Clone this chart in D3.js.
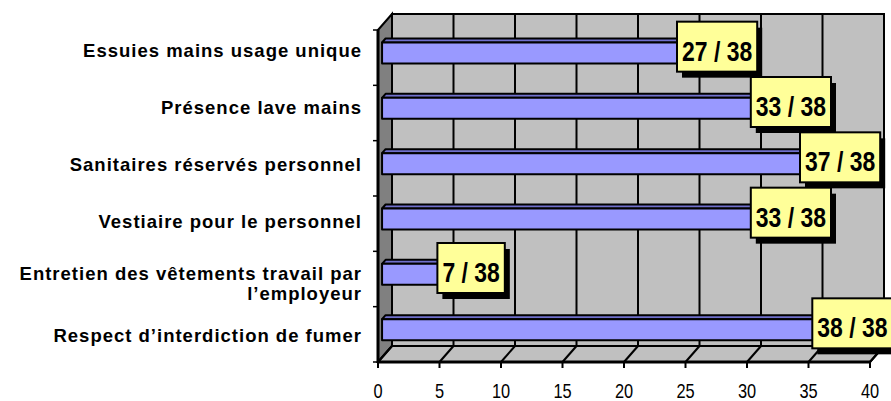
<!DOCTYPE html>
<html>
<head>
<meta charset="utf-8">
<script src="https://cdn.jsdelivr.net/npm/d3@7"></script>
<style>
  body { margin: 0; background: #fff; }
  svg { display: block; }
</style>
</head>
<body>
<div id="chart"></div>
<script>
// data
const categories = [
    "Essuies mains usage unique",
    "Présence lave mains",
    "Sanitaires réservés personnel",
    "Vestiaire pour le personnel",
    "Entretien des vêtements travail par l’employeur",
    "Respect d’interdiction de fumer"
];
const labelLines = [
    ["Essuies mains usage unique"],
    ["Présence lave mains"],
    ["Sanitaires réservés personnel"],
    ["Vestiaire pour le personnel"],
    ["Entretien des vêtements travail par", "l’employeur"],
    ["Respect d’interdiction de fumer"]
];
const values = [27, 33, 37, 33, 7, 38];
const total = 38;
const xTicks = [0, 5, 10, 15, 20, 25, 30, 35, 40];

const W = 891, H = 401;
const DX = 14, DY = -16;          // depth of the 3d box
const barF = 0.29, barB = 0.54;   // bar front / back as fraction of depth
const narrow = 0.82;              // horizontal squeeze for the narrow font

const svg = d3.select("#chart").append("svg")
    .attr("width", W)
    .attr("height", H)
    .style("font-family", "'Liberation Sans', Arial, sans-serif");

const x = d3.scaleLinear().domain([0, 40]).range([378, 870]);
const y = d3.scaleBand().domain(categories).range([30, 362]).paddingInner(0);
const yLabel = d3.scalePoint().domain(categories).range([50, 335]);

const x0 = x(0), x1 = x(40), yTop = y.range()[0], yBot = y.range()[1];

// WALLS
svg.append("rect")
    .attr("x", x0 + DX).attr("y", yTop + DY)
    .attr("width", x1 - x0).attr("height", yBot - yTop)
    .attr("fill", "#c0c0c0").attr("stroke", "#000").attr("stroke-width", 2);

svg.append("polygon")
    .attr("points", [[x0, yTop], [x0 + DX, yTop + DY], [x0 + DX, yBot + DY], [x0, yBot]].join(" "))
    .attr("fill", "#808080").attr("stroke", "#000").attr("stroke-width", 2);

svg.append("polygon")
    .attr("points", [[x0, yBot], [x0 + DX, yBot + DY], [x1 + DX, yBot + DY], [x1, yBot]].join(" "))
    .attr("fill", "#c0c0c0").attr("stroke", "#000").attr("stroke-width", 2);

// grid on back wall and floor
svg.selectAll(".wallgrid").data(xTicks.slice(1, -1)).enter()
    .append("line")
    .attr("x1", d => x(d) + DX).attr("x2", d => x(d) + DX)
    .attr("y1", yTop + DY).attr("y2", yBot + DY)
    .attr("stroke", "#000").attr("stroke-width", 2);

svg.selectAll(".floorgrid").data(xTicks).enter()
    .append("line")
    .attr("x1", d => x(d)).attr("y1", yBot)
    .attr("x2", d => x(d) + DX).attr("y2", yBot + DY)
    .attr("stroke", "#000").attr("stroke-width", 2);

// AXES
svg.append("line")
    .attr("x1", x0).attr("x2", x1).attr("y1", yBot).attr("y2", yBot)
    .attr("stroke", "#000").attr("stroke-width", 3);
svg.append("line")
    .attr("x1", x0).attr("x2", x0).attr("y1", yTop).attr("y2", yBot)
    .attr("stroke", "#000").attr("stroke-width", 3);

svg.selectAll(".xtick").data(xTicks).enter()
    .append("line")
    .attr("x1", d => x(d)).attr("x2", d => x(d))
    .attr("y1", yBot).attr("y2", yBot + 6)
    .attr("stroke", "#000").attr("stroke-width", 2);

const yBounds = categories.map(c => y(c)).concat([yBot]);
svg.selectAll(".ytick").data(yBounds).enter()
    .append("line")
    .attr("x1", x0 - 5).attr("x2", x0)
    .attr("y1", d => d).attr("y2", d => d)
    .attr("stroke", "#000").attr("stroke-width", 1.5);

svg.selectAll(".xlab").data(xTicks).enter()
    .append("g")
    .attr("transform", d => "translate(" + x(d) + ",398) scale(" + narrow + ",1)")
    .append("text")
    .attr("text-anchor", "middle")
    .style("font-size", "20px")
    .text(d => d);

// category labels
categories.forEach((c, i) => {
    const lines = labelLines[i];
    const cy = yLabel(c) + (lines.length > 1 ? 5 : 0);
    lines.forEach((t, j) => {
        svg.append("text")
            .attr("x", 362)
            .attr("y", cy + (j - (lines.length - 1) / 2) * 19.5 + 7)
            .attr("text-anchor", "end")
            .style("font-size", "18.5px")
            .style("font-weight", "bold")
            .style("letter-spacing", "1px")
            .text(t);
    });
});

// BARS
const bh = y.bandwidth() * 0.38;
const ddx = DX * (barB - barF), ddy = DY * (barB - barF);

categories.forEach((c, i) => {
    const v = values[i];
    const yc = y(c) + y.bandwidth() / 2;
    const bx = x0 + DX * barF, by = yc - bh / 2 + DY * barF;
    const bw = x(v) - x0;
    const g = svg.append("g").attr("stroke", "#000").attr("stroke-width", 2).attr("stroke-linejoin", "round");

    g.append("polygon")
        .attr("points", [[bx, by], [bx + bw, by], [bx + bw + ddx, by + ddy], [bx + ddx, by + ddy]].join(" "))
        .attr("fill", "#7070cc");
    g.append("polygon")
        .attr("points", [[bx + bw, by], [bx + bw + ddx, by + ddy], [bx + bw + ddx, by + bh + ddy], [bx + bw, by + bh]].join(" "))
        .attr("fill", "#5050a0");
    g.append("rect")
        .attr("x", bx).attr("y", by).attr("width", bw).attr("height", bh)
        .attr("fill", "#9999ff");
});

// DATA LABELS
categories.forEach((c, i) => {
    const v = values[i];
    const cx = x(v) + DX * 0.5;
    const cy = y(c) + y.bandwidth() / 2 - 11;
    const g = svg.append("g");
    const shadow = g.append("rect");
    const box = g.append("rect");
    const t = g.append("g")
        .attr("transform", "translate(" + cx + "," + (cy + 14) + ") scale(" + narrow + ",1)")
        .append("text")
        .attr("text-anchor", "middle")
        .style("font-size", "28px")
        .style("font-weight", "bold")
        .text(v + " / " + total);
    const tw = t.node().getComputedTextLength() * narrow;
    const bw = tw + 10, bhh = 50;
    shadow.attr("x", cx - bw / 2 + 5).attr("y", cy - bhh / 2 + 6)
        .attr("width", bw).attr("height", bhh).attr("fill", "#000");
    box.attr("x", cx - bw / 2).attr("y", cy - bhh / 2)
        .attr("width", bw).attr("height", bhh)
        .attr("fill", "#ffff99").attr("stroke", "#000").attr("stroke-width", 2);
});
</script>
</body>
</html>
